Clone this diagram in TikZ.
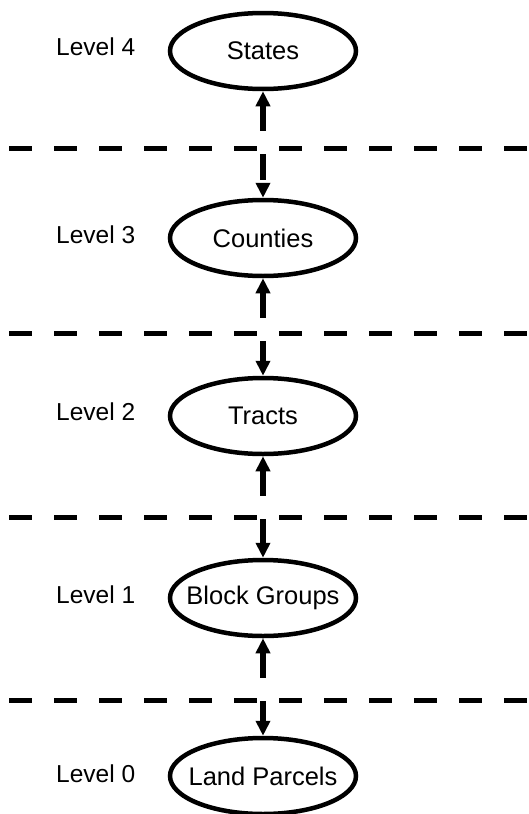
\documentclass[tikz,border=0pt]{standalone}
\usepackage{fontspec}
\setmainfont{Liberation Sans}
\usetikzlibrary{positioning, shapes.geometric, arrows.meta}
\tikzset{
    level/.style={
        draw, ellipse, line width = 4.5pt,
        minimum width = 186pt,
        minimum height = 76pt,
        inner xsep = -30pt, inner ysep = 0pt,
        font = \fontsize{25.5}{29}\selectfont
    },
    lvltext/.style = {anchor = west, inner sep = 0pt, font = \fontsize{24.5}{28}\selectfont},
    divider/.style = {line width = 5pt, dash pattern = on 23pt off 22pt},
    link/.style = {{Triangle[length=15pt,width=14pt]}-{Triangle[length=15pt,width=14pt]}, line width = 5.5pt, dash pattern = on 26pt off 23pt}
}

\begin{document}
\begin{tikzpicture}[x=1pt, y=-1pt]

    % Page
    \useasboundingbox (0,0) rectangle (529,814);

    % Dividers
    \draw[divider] (9,148) -- (529,148);
    \draw[divider] (9,333) -- (529,333);
    \draw[divider] (9,517) -- (529,517);
    \draw[divider] (9,700) -- (529,700);

    % Levels
    \node[level] (states) at (263,51) {States};
    \node[level] (counties) at (263,238) {Counties};
    \node[level] (tracts) at (263,416) {Tracts};
    \node[level] (blockgroups) at (263,598) {Block Groups};
    \node[level] (parcels) at (263,776) {Land Parcels};

    % Links
    \draw[link] (states) -- (counties);
    \draw[link] (counties) -- (tracts);
    \draw[link] (tracts) -- (blockgroups);
    \draw[link] (blockgroups) -- (parcels);

    % Labels
    \node[lvltext] (l4) at (56,47) {Level 4};
    \node[lvltext] (l3) at (56,235) {Level 3};
    \node[lvltext] (l2) at (56,412) {Level 2};
    \node[lvltext] (l1) at (56,595) {Level 1};
    \node[lvltext] (l0) at (56,774) {Level 0};

\end{tikzpicture}
\end{document}
